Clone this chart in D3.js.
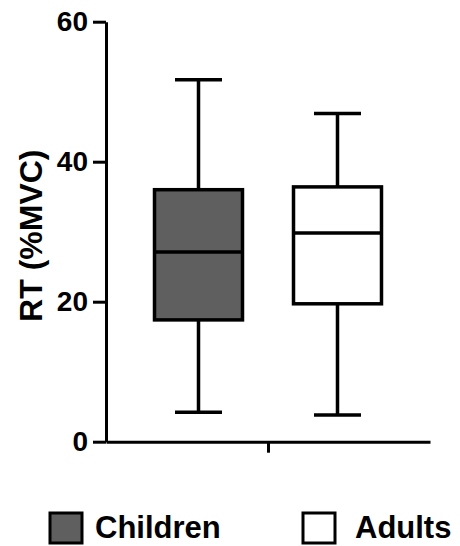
<!DOCTYPE html>
<html>
<head>
<meta charset="utf-8">
<script src="https://cdn.jsdelivr.net/npm/d3@7"></script>
<style>
  html, body { margin: 0; padding: 0; background: #fff; }
  text { font-family: "Liberation Sans", Arial, sans-serif; font-weight: bold; }
</style>
</head>
<body>
<script>
// box plot values
let groups = ['Children', 'Adults']
let mins = [4.2, 3.8]
let q1s = [17.4, 19.7]
let medians = [27.1, 29.8]
let q3s = [36.0, 36.4]
let maxs = [51.7, 46.9]
let fills = ['#5f5f5f', '#ffffff']
let yTicks = [0, 20, 40, 60]
let yLabel = 'RT (%MVC)'

let width = 460, height = 546
let margin = { top: 21.7, right: 30, bottom: 104.3, left: 106 }

let svg = d3.select('body')
    .append('svg')
    .attr('width', width)
    .attr('height', height)

let y = d3.scaleLinear()
    .domain([0, 60])
    .range([height - margin.bottom, margin.top])

let x = d3.scaleBand()
    .domain(groups)
    .range([margin.left, width - margin.right])
    .paddingInner(0.367)
    .paddingOuter(0.349)

// single centred tick on the x axis
let xAxisScale = d3.scalePoint()
    .domain([''])
    .range([margin.left, width - margin.right])

let data = groups.map((g, i) => ({
    group: g, min: mins[i], q1: q1s[i], median: medians[i], q3: q3s[i], max: maxs[i], fill: fills[i]
}))

// y axis
let yAxis = svg.append('g')
    .attr('transform', `translate(${margin.left},0)`)
    .call(d3.axisLeft(y).tickValues(yTicks).tickSize(13).tickPadding(5).tickSizeOuter(0))
yAxis.select('.domain').attr('stroke-width', 3).attr('stroke', '#000')
yAxis.selectAll('.tick line').attr('stroke-width', 3)
yAxis.selectAll('.tick text')
    .attr('font-size', 28)
    .attr('fill', '#000')
    .style('font-family', '"Liberation Sans", Arial, sans-serif')
    .style('font-weight', 'bold')

// x axis
let xAxis = svg.append('g')
    .attr('transform', `translate(0,${y(0)})`)
    .call(d3.axisBottom(xAxisScale).tickSize(11).tickSizeOuter(0).tickFormat(''))
xAxis.select('.domain').attr('stroke-width', 3).attr('stroke', '#000')
xAxis.selectAll('.tick line').attr('stroke-width', 3)

// y label
svg.append('text')
    .attr('transform', `translate(42,${(y(0) + y(60)) / 2 + 4}) rotate(-90)`)
    .attr('text-anchor', 'middle')
    .attr('font-size', 32)
    .text(yLabel)

let capWidth = 47
let sw = 3.5

let boxes = svg.append('g')
    .selectAll('g')
    .data(data)
    .join('g')

// whiskers
boxes.append('line')
    .attr('x1', d => x(d.group) + x.bandwidth() / 2)
    .attr('x2', d => x(d.group) + x.bandwidth() / 2)
    .attr('y1', d => y(d.min))
    .attr('y2', d => y(d.max))
    .attr('stroke', '#000')
    .attr('stroke-width', sw)

boxes.selectAll('.cap')
    .data(d => [d.min, d.max].map(v => ({ group: d.group, v })))
    .join('line')
    .attr('class', 'cap')
    .attr('x1', d => x(d.group) + x.bandwidth() / 2 - capWidth / 2)
    .attr('x2', d => x(d.group) + x.bandwidth() / 2 + capWidth / 2)
    .attr('y1', d => y(d.v))
    .attr('y2', d => y(d.v))
    .attr('stroke', '#000')
    .attr('stroke-width', sw)

// box
boxes.append('rect')
    .attr('x', d => x(d.group))
    .attr('width', x.bandwidth())
    .attr('y', d => y(d.q3))
    .attr('height', d => y(d.q1) - y(d.q3))
    .attr('fill', d => d.fill)
    .attr('stroke', '#000')
    .attr('stroke-width', sw)

// median
boxes.append('line')
    .attr('x1', d => x(d.group))
    .attr('x2', d => x(d.group) + x.bandwidth())
    .attr('y1', d => y(d.median))
    .attr('y2', d => y(d.median))
    .attr('stroke', '#000')
    .attr('stroke-width', sw)

// legend
let legendX = [50, 303]
let legend = svg.append('g')
    .selectAll('g')
    .data(data)
    .join('g')
    .attr('transform', (d, i) => `translate(${legendX[i]},513)`)

legend.append('rect')
    .attr('width', 32)
    .attr('height', 30)
    .attr('fill', d => d.fill)
    .attr('stroke', '#000')
    .attr('stroke-width', 3)

legend.append('text')
    .attr('x', (d, i) => i === 0 ? 45 : 52)
    .attr('y', 25)
    .attr('font-size', 31)
    .text(d => d.group)
</script>
</body>
</html>
